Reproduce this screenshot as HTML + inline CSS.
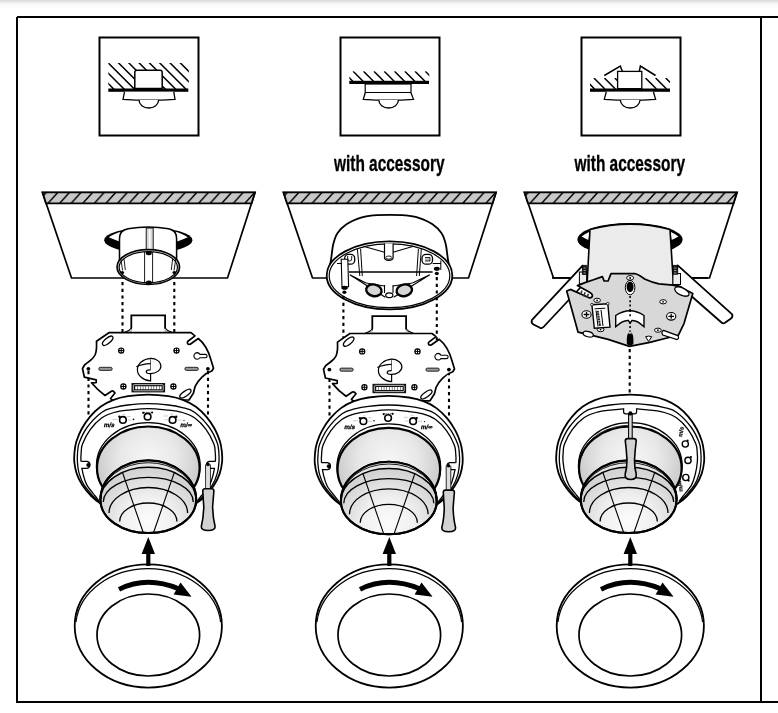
<!DOCTYPE html>
<html><head><meta charset="utf-8"><style>
html,body{margin:0;padding:0;background:#fff;width:778px;height:713px;overflow:hidden}
svg{display:block;will-change:transform}
text{font-family:"Liberation Sans",sans-serif;font-weight:bold}
</style></head><body>
<svg width="778" height="713" viewBox="0 0 778 713">
<defs>
<linearGradient id="topband" x1="0" y1="0" x2="0" y2="1">
<stop offset="0" stop-color="#d8d8d8"/><stop offset="0.3" stop-color="#ececec"/><stop offset="0.5" stop-color="#f8f8f8"/><stop offset="1" stop-color="#fdfdfd"/>
</linearGradient>
<pattern id="ceil" patternUnits="userSpaceOnUse" width="11.58" height="14" x="47.4" y="191">
<rect width="11.58" height="14" fill="#c8c8c8"/>
<path d="M-0.9,14 L11.7,0 M10.68,14 L23.28,0 M-12.48,14 L0.12,0" stroke="#000" stroke-width="1.5"/>
</pattern>
<radialGradient id="domeG" gradientUnits="userSpaceOnUse" cx="148.3" cy="458" r="52">
<stop offset="0" stop-color="#f6f6f6"/><stop offset="0.55" stop-color="#e8e8e8"/><stop offset="1" stop-color="#cdcdcd"/>
</radialGradient>
<radialGradient id="lensG" gradientUnits="userSpaceOnUse" cx="148.3" cy="522" r="52">
<stop offset="0" stop-color="#fcfcfc"/><stop offset="0.5" stop-color="#efefef"/><stop offset="1" stop-color="#d4d4d4"/>
</radialGradient>
<linearGradient id="boxG" x1="0" y1="0" x2="1" y2="0">
<stop offset="0" stop-color="#e6e6e6"/><stop offset="0.5" stop-color="#fafafa"/><stop offset="1" stop-color="#e0e0e0"/>
</linearGradient>
</defs>
<rect x="0" y="0" width="778" height="8" fill="url(#topband)"/>
<path d="M17,17 H778 M17,17 V702 H778 M761,17 V702" fill="none" stroke="#000" stroke-width="2"/>
<g>
<rect x="99.5" y="37.5" width="99" height="98" fill="none" stroke="#000" stroke-width="2"/>
<clipPath id="c1"><rect x="108.3" y="63" width="80.5" height="26"/></clipPath>
<g clip-path="url(#c1)" stroke="#000" stroke-width="1.5">
<path d="M67.4,53 l40,40 M77.7,53 l40,40 M88,53 l40,40 M98.3,53 l40,40 M108.6,53 l40,40 M118.9,53 l40,40 M129.2,53 l40,40 M139.5,53 l40,40 M149.8,53 l40,40 M160.1,53 l40,40 M170.4,53 l40,40 M180.7,53 l40,40"/>
</g>
<path d="M134.8,88.6 V72.5 Q134.8,70.3 137,70.3 H160 Q162.2,70.3 162.2,72.5 V88.6 Z" fill="#fff" stroke="#000" stroke-width="1.5"/>
<rect x="108.3" y="88.5" width="80" height="3.3" fill="#000"/>
<path d="M124.5,91.8 L123,99.3 Q149,101 175,99.3 L173.8,91.8" fill="#fff" stroke="#000" stroke-width="1.3"/>
<path d="M139,100 A9.8,8 0 0 0 158.6,100" fill="#fff" stroke="#000" stroke-width="1.3"/>
</g>
<g>
<rect x="340.5" y="37.5" width="99" height="98" fill="none" stroke="#000" stroke-width="2"/>
<clipPath id="c2"><rect x="349.3" y="71.3" width="80" height="9.8"/></clipPath>
<g clip-path="url(#c2)" stroke="#000" stroke-width="1.5">
<path d="M342.8,71.3 l10,10 M353.1,71.3 l10,10 M363.5,71.3 l10,10 M373.9,71.3 l10,10 M384.2,71.3 l10,10 M394.5,71.3 l10,10 M404.8,71.3 l10,10 M415,71.3 l10,10 M425.3,71.3 l10,10"/>
</g>
<rect x="349.3" y="80.8" width="79.7" height="3.2" fill="#000"/>
<rect x="365.2" y="84" width="45.8" height="9" fill="#fff" stroke="#000" stroke-width="1.2"/>
<path d="M365.2,93 H411" stroke="#000" stroke-width="2"/>
<path d="M365.2,93 L363.3,99.3 Q388.6,101 413.5,99.3 L411,93" fill="#fff" stroke="#000" stroke-width="1.3"/>
<path d="M378.8,100 A9.8,8 0 0 0 398.4,100" fill="#fff" stroke="#000" stroke-width="1.3"/>
</g>
<g>
<rect x="581.5" y="37.5" width="99" height="98" fill="none" stroke="#000" stroke-width="2"/>
<clipPath id="c3"><rect x="590" y="78" width="80" height="11"/></clipPath>
<g clip-path="url(#c3)" stroke="#000" stroke-width="1.5">
<path d="M583.6,78 l11,11 M593.9,78 l11,11 M604.4,78 l11,11 M614.8,78 l11,11 M645.5,78 l11,11 M655.6,78 l11,11 M665.7,78 l11,11"/>
</g>
<rect x="617.6" y="71.4" width="24.2" height="17.3" fill="#fff" stroke="#000" stroke-width="1.3"/>
<path d="M604.3,75.5 L620.3,66 L622.3,71.3 M639.3,71.3 L640.4,66 L655.6,75.5" fill="none" stroke="#000" stroke-width="1.5"/>
<rect x="590" y="88.5" width="80" height="3.3" fill="#000"/>
<path d="M606.3,91.8 L604.3,99.3 Q630,101 655.6,99.3 L653.4,91.8" fill="#fff" stroke="#000" stroke-width="1.3"/>
<path d="M620.4,100 A9.8,8 0 0 0 640,100" fill="#fff" stroke="#000" stroke-width="1.3"/>
</g>
<text x="334" y="170.6" font-size="21.3" textLength="110.5" lengthAdjust="spacingAndGlyphs" stroke="#000" stroke-width="0.35">with accessory</text>
<text x="574.5" y="170.6" font-size="21.3" textLength="110.5" lengthAdjust="spacingAndGlyphs" stroke="#000" stroke-width="0.35">with accessory</text>
<g id="panel">
<path d="M42.5,192.5 H255 L227.5,278 H71.5 Z" fill="#fff" stroke="#000" stroke-width="1.7"/>
<path d="M42.5,192.3 H255 L251.6,203.3 H46 Z" fill="url(#ceil)" stroke="#000" stroke-width="1.8"/>
</g>
<use href="#panel" x="241"/>
<use href="#panel" x="482"/>
<g id="c1top">
<ellipse cx="148.3" cy="240.2" rx="44.1" ry="12.7" fill="#000"/>
<path d="M108.8,237.2 Q114,233.6 122.5,231.6 L119.3,241.4 Q114,239.6 108.8,237.2 Z M187.8,237.2 Q182.6,233.6 174.1,231.6 L177.3,241.4 Q182.6,239.6 187.8,237.2 Z" fill="#fff"/>
<path d="M119.5,268 V238.5 Q119.5,230.5 128,228.8 Q148.3,225.4 168.6,228.8 Q176.6,230.5 176.6,238.5 V268 Z" fill="#fff" stroke="none"/>
<path d="M119.5,268 V238.5 Q119.5,230.5 128,228.8 Q148.3,225.4 168.6,228.8 Q176.6,230.5 176.6,238.5 V268" fill="none" stroke="#000" stroke-width="1.5"/>
<rect x="146.2" y="228" width="7" height="24" fill="#d9d9d9" stroke="#000" stroke-width="0.9"/>
<path d="M149.7,229 V249" stroke="#fafafa" stroke-width="1.6"/>
<ellipse cx="148.3" cy="267" rx="31.2" ry="17.3" fill="#fff" stroke="#000" stroke-width="1.8"/>
<ellipse cx="148.3" cy="267.3" rx="29.2" ry="15.6" fill="none" stroke="#000" stroke-width="1.2"/>
<ellipse cx="148.3" cy="267.2" rx="30.2" ry="16.5" fill="none" stroke="#888" stroke-width="0.8" stroke-dasharray="1 1"/>
<path d="M144.6,252 V283 M152.6,252 V283" stroke="#000" stroke-width="0.9"/>
<ellipse cx="148.8" cy="253" rx="3" ry="2.2" fill="#000"/>
<ellipse cx="148.8" cy="282.6" rx="3" ry="2.2" fill="#000"/>
<path d="M120.8,259 L122.6,270.5 M124,259 L125.3,270 M175.8,259 L174,270.5 M172.6,259 L171.3,270" stroke="#000" stroke-width="0.9"/>
<ellipse cx="122.3" cy="272.5" rx="1.8" ry="1.6" fill="#000"/>
<ellipse cx="174.3" cy="272.5" rx="1.8" ry="1.6" fill="#000"/>
</g>
<path d="M122.5,282 V334" stroke="#000" stroke-width="2.1" stroke-dasharray="3.2 3.5"/><path d="M174.3,282 V334" stroke="#000" stroke-width="2.1" stroke-dasharray="3.2 3.5"/><g id="plate">
<path d="M123.9,332.8 Q130.5,331 131.3,328 V315.4 H165.1 V328 Q166,331 172.6,332.8 Z" fill="#fff" stroke="#000" stroke-width="1.8"/>
<path d="M125.5,332.5 Q130,331 131.3,328.5 L131.8,332.5 Z M171,332.5 Q166.5,331 165.1,328.5 L164.6,332.5 Z" fill="#bbb"/>
<path d="M108.9,332.7 H191 L195,335.8 L187.6,341.5 Q186.6,344.8 190.2,344.2 L198.3,338.5 C204,343 209,352 211.3,361 L213.5,368.2 L211.8,371 C205,373 198,380 195,386.7 L193.5,393 L189,400 L112,400 L110.5,398.5 L115,393 Q113,390.3 111.4,391.2 L105,395.5 C100,392 95,387 91.5,382.8 L96.2,382.6 L96.2,379.8 L84.4,377.2 L82.5,368.5 L84.7,364.8 C91,360 95.5,357 96,352 C97,348 96.5,344 96.5,341.3 Z" fill="#fff" stroke="#000" stroke-width="1.7" stroke-linejoin="round"/>
<ellipse cx="107.7" cy="340.8" rx="6.4" ry="2.7" transform="rotate(-40 107.7 340.8)" fill="#fff" stroke="#000" stroke-width="1.3"/>
<ellipse cx="185.4" cy="393.7" rx="6.6" ry="2.5" transform="rotate(-35 185.4 393.7)" fill="#fff" stroke="#000" stroke-width="1.3"/>
<g fill="#fff" stroke="#000" stroke-width="1.2">
<circle cx="121.2" cy="350.6" r="2.6"/><circle cx="123.4" cy="386.5" r="2.6"/>
<circle cx="176.5" cy="350.6" r="2.6"/><circle cx="173.4" cy="386.5" r="2.6"/>
</g>
<path d="M118.6,350.6 h5.2 M121.2,348 v5.2 M120.8,386.5 h5.2 M123.4,383.9 v5.2 M173.9,350.6 h5.2 M176.5,348 v5.2 M170.8,386.5 h5.2 M173.4,383.9 v5.2" stroke="#000" stroke-width="1"/>
<rect x="98.8" y="367.3" width="13.4" height="3.1" rx="1.5" fill="#999" stroke="#000" stroke-width="0.8"/>
<rect x="184.9" y="367.3" width="13.4" height="3.1" rx="1.5" fill="#999" stroke="#000" stroke-width="0.8"/>
<circle cx="88.4" cy="368.8" r="1.9" fill="#000"/>
<circle cx="207.9" cy="368.8" r="1.9" fill="#000"/>
<path d="M197.2,352.6 A3.3,3.3 0 1 0 199.9,357.8 H205.4 A1.5,1.5 0 0 0 205.4,354.4 H199.9 A3.3,3.3 0 0 0 197.2,352.6 Z" fill="#fff" stroke="#000" stroke-width="1.1"/>
<path d="M150.6,358.4 A14.6,11.3 0 0 0 150.6,380.9 Z" fill="#fff" stroke="#000" stroke-width="1.2"/>
<path d="M150.6,358.4 A10.3,7.6 0 0 1 150.6,373.6 Q146.2,373.8 146.2,371.6 Q146.5,369.6 150.6,369.8" fill="#fff" stroke="#000" stroke-width="1.2"/>
<path d="M136.3,366.8 Q142,363.8 150.6,363.6" fill="none" stroke="#000" stroke-width="1.1"/>
<rect x="131.5" y="383" width="33.6" height="9.4" fill="#111"/>
<rect x="133.4" y="384.6" width="29.8" height="6.2" rx="1" fill="none" stroke="#ddd" stroke-width="0.8"/>
<path d="M135.2,387.7 H161.6" stroke="#fff" stroke-width="3" stroke-dasharray="2.2 0.5"/>
</g>
<path d="M88.5,371 V418" stroke="#000" stroke-width="2.1" stroke-dasharray="3.2 3.5"/><path d="M208,371 V418" stroke="#000" stroke-width="2.1" stroke-dasharray="3.2 3.5"/><g id="sensor"><path d="M100.8,503.9 C99.2,502.6 94.4,499.2 91.3,496.0 C88.2,492.8 84.7,488.6 82.3,484.9 C79.9,481.2 78.0,477.4 76.7,473.6 C75.4,469.8 74.7,465.6 74.3,462.0 C73.9,458.4 74.2,455.4 74.5,452.0 C74.8,448.6 75.2,445.4 76.4,441.6 C77.6,437.8 79.2,433.4 81.5,429.3 C83.8,425.2 86.7,420.6 89.9,416.9 C93.1,413.1 96.7,409.6 100.5,406.8 C104.3,404.0 108.3,401.9 112.9,400.1 C117.5,398.3 122.1,397.1 128.0,396.2 C133.9,395.3 141.5,394.6 148.2,394.6 C154.9,394.6 162.5,395.3 168.4,396.2 C174.3,397.1 178.9,398.3 183.5,400.1 C188.1,401.9 192.1,404.0 195.9,406.8 C199.7,409.6 203.3,413.1 206.5,416.9 C209.7,420.6 212.6,425.2 214.9,429.3 C217.1,433.4 218.8,437.8 220.0,441.6 C221.2,445.4 221.5,448.6 221.9,452.0 C222.2,455.4 222.5,458.4 222.1,462.0 C221.7,465.6 221.0,469.8 219.7,473.6 C218.4,477.4 216.5,481.2 214.1,484.9 C211.7,488.6 208.2,492.8 205.1,496.0 C202.0,499.2 197.2,502.6 195.6,503.9 Z" fill="#fff" stroke="#000" stroke-width="1.8"/><path d="M100.8,503.9 C99.5,502.6 95.8,499.2 93.0,496.0 C90.2,492.8 86.3,488.6 84.0,484.9 C81.7,481.2 80.3,477.4 79.2,473.6 C78.1,469.8 77.7,465.6 77.4,462.0 C77.1,458.4 77.3,455.2 77.6,452.0 C77.9,448.8 77.6,446.8 79.2,442.7 C80.8,438.6 83.3,432.6 87.0,427.5 C90.7,422.4 97.1,415.7 101.6,412.4 C106.1,409.1 109.6,408.8 114.0,407.6 C118.4,406.4 122.3,405.6 128.0,405.0 C133.7,404.4 141.5,403.7 148.2,403.7 C154.9,403.7 162.7,404.4 168.4,405.0 C174.1,405.6 178.0,406.4 182.4,407.6 C186.8,408.8 190.3,409.1 194.8,412.4 C199.3,415.7 205.7,422.4 209.4,427.5 C213.1,432.6 215.6,438.6 217.2,442.7 C218.8,446.8 218.5,448.8 218.8,452.0 C219.1,455.2 219.3,458.4 219.0,462.0 C218.7,465.6 218.3,469.8 217.2,473.6 C216.1,477.4 214.7,481.2 212.4,484.9 C210.1,488.6 206.2,492.8 203.4,496.0 C200.6,499.2 196.9,502.6 195.6,503.9" fill="none" stroke="#000" stroke-width="1.3"/><path d="M99.5,501.5 C98.8,500.6 97.3,498.8 95.2,496.0 C93.1,493.2 88.8,488.6 86.8,484.9 C84.8,481.2 84.0,477.6 83.0,473.6 C82.0,469.6 81.3,464.6 81.0,461.0 C80.7,457.4 80.9,454.9 81.2,452.0 C81.5,449.1 81.1,447.6 82.6,443.8 C84.1,440.0 87.2,433.6 90.4,429.3 C93.6,425.0 97.7,420.8 101.6,418.0 C105.5,415.2 109.6,413.8 114.0,412.5 C118.4,411.2 122.3,410.8 128.0,410.2 C133.7,409.6 141.5,408.6 148.2,408.6 C154.9,408.6 162.7,409.6 168.4,410.2 C174.1,410.8 178.0,411.2 182.4,412.5 C186.8,413.8 190.9,415.2 194.8,418.0 C198.7,420.8 202.8,425.0 206.0,429.3 C209.2,433.6 212.3,440.0 213.8,443.8 C215.3,447.6 214.9,449.1 215.2,452.0 C215.5,454.9 215.7,457.4 215.4,461.0 C215.1,464.6 214.4,469.6 213.4,473.6 C212.4,477.6 211.6,481.2 209.6,484.9 C207.6,488.6 203.3,493.2 201.2,496.0 C199.1,498.8 197.6,500.6 196.9,501.5" fill="none" stroke="#000" stroke-width="1.3"/><rect x="79.5" y="461.8" width="3.4" height="6.2" fill="#fff"/>
<path d="M81.2,461.3 H87 A3.6,3.6 0 0 1 87,468.4 H81.4" fill="#fff" stroke="#000" stroke-width="1.2"/>
<circle cx="88.3" cy="464.9" r="2" fill="#000"/>
<rect x="213.5" y="461.8" width="3.4" height="6.2" fill="#fff"/>
<path d="M215.2,461.3 H209.4 A3.6,3.6 0 0 0 209.4,468.4 H215" fill="#fff" stroke="#000" stroke-width="1.2"/>
<ellipse cx="148.3" cy="465.6" rx="51.9" ry="43" fill="#fff" stroke="#000" stroke-width="1.2"/><ellipse cx="148.3" cy="468" rx="51.3" ry="41.5" fill="url(#domeG)" stroke="#000" stroke-width="2.2"/><g fill="none" stroke="#000" stroke-width="1.6">
<circle cx="122.9" cy="419.9" r="3.3"/><circle cx="147.6" cy="416.7" r="3.3"/><circle cx="172.6" cy="419.9" r="3.3"/>
</g>
<g fill="#000"><circle cx="119.4" cy="416.8" r="1.2"/><circle cx="176.2" cy="416.8" r="1.2"/><circle cx="143.2" cy="412.8" r="1.1"/><circle cx="152.1" cy="412.5" r="1.1"/><circle cx="133.5" cy="419.4" r="0.8"/><circle cx="184" cy="420.3" r="0.6"/></g>
<path d="M144,412.4 H151.5" stroke="#000" stroke-width="0.7" stroke-dasharray="1 0.8"/>
<g stroke="#999" stroke-width="0.5" fill="none">
<path d="M112.5,419.5 h5 M127,416.5 h3.5 M127.5,420 h4 M163.5,416 h4.5 M164.5,419.8 h3.5 M177.5,420 h4 M123,414.5 h2 M170,414 h3"/>
</g>
<text x="103.5" y="427.5" font-size="6.2" transform="skewX(-12) translate(90.9,0)" stroke="#000" stroke-width="0.25">m/s</text>
<text x="180" y="427.5" font-size="6.2" transform="skewX(-12) translate(90.9,0)" stroke="#000" stroke-width="0.25">m/∞</text>
<path d="M100.4,500 A47.9,39.6 0 0 1 196.2,500 A47.9,33 0 0 1 100.4,500 Z" fill="url(#lensG)" stroke="#000" stroke-width="2"/>
<path d="M100.4,500 A47.9,32.7 0 0 1 196.2,500 A47.9,39.6 0 0 0 100.4,500 Z" fill="#e4e4e4"/>
<path d="M100.4,500 A47.9,37.3 0 0 1 196.2,500" fill="none" stroke="#000" stroke-width="0.9"/>
<path d="M100.4,500 A47.9,32.7 0 0 1 196.2,500" fill="none" stroke="#000" stroke-width="1.5"/>
<path d="M100.4,500 A47.9,39.6 0 0 1 196.2,500" fill="none" stroke="#000" stroke-width="2.1"/>
<g fill="none" stroke="#000" stroke-width="1.3">
<path d="M103.3,502 A45,24.6 0 0 1 193.3,502"/>
<path d="M109,513 A39.3,25.5 0 0 1 187.6,513"/>
<path d="M119.7,521.5 A28.6,18.5 0 0 1 176.9,521.5"/>
</g>
<path d="M122.5,472.5 L143.3,532.8 M174.3,472.5 L153.5,532.8" stroke="#000" stroke-width="1.1"/>
<path d="M100.4,500 A47.9,33 0 0 0 196.2,500" fill="none" stroke="#000" stroke-width="2"/>
<path d="M205.8,464.5 L205.9,488.8 M210.2,464.5 L210.1,488.8" stroke="#000" stroke-width="1.2"/>
<rect x="206.1" y="464.5" width="3.8" height="24.4" fill="#ddd"/>
<circle cx="208" cy="464.4" r="1.8" fill="#000"/>
<path d="M202.8,491 Q202.8,488.8 205,488.8 H211.7 Q213.9,488.8 213.9,491 Q213.2,499 212.6,507 Q213,518 215,526 Q215.6,530.5 208.2,530.5 Q200.8,530.5 201.4,526 Q203.4,518 203.8,507 Q203.2,499 202.8,491 Z" fill="#d2d2d2" stroke="#000" stroke-width="1.6"/>
</g><g id="acc">
<path d="M326.8,276.0 C327.4,273.7 329.5,267.3 330.6,262.0 C331.7,256.7 332.1,248.8 333.3,244.0 C334.5,239.2 335.4,236.3 337.6,233.0 C339.8,229.7 342.6,226.8 346.5,224.2 C350.4,221.6 356.4,219.1 361.0,217.6 C365.6,216.1 369.3,215.8 374.0,215.3 C378.7,214.9 384.1,214.9 389.3,214.9 C394.5,214.9 400.2,214.9 405.0,215.3 C409.8,215.8 413.4,216.1 418.0,217.6 C422.6,219.1 428.6,221.6 432.5,224.2 C436.4,226.8 439.2,229.7 441.4,233.0 C443.6,236.3 444.5,239.2 445.7,244.0 C446.9,248.8 447.3,256.7 448.4,262.0 C449.5,267.3 451.6,273.7 452.2,276.0 A62.8,33.8 0 0 1 326.8,276 Z" fill="#fff" stroke="#000" stroke-width="1.8"/>
<ellipse cx="389.5" cy="275.4" rx="62.8" ry="34" fill="#fff" stroke="#000" stroke-width="1.8"/>
<ellipse cx="389.5" cy="275.8" rx="60.3" ry="31.9" fill="#fff" stroke="#000" stroke-width="1.2"/>
<path d="M357.4,249 L359.8,276 M360.6,249 L362.3,276 M418.4,249 L416.6,276 M421.3,249 L419.3,276" stroke="#000" stroke-width="1"/>
<path d="M349,272 H432.6" stroke="#000" stroke-width="1.3"/>
<path d="M363.3,246.3 L384.5,252.3 M413.5,246.3 L393,252.3" stroke="#000" stroke-width="1.1"/>
<path d="M384.5,243.4 V257.8 A4.3,2.5 0 0 0 393.1,257.8 V243.4" fill="#fff" stroke="#000" stroke-width="1.2"/>
<ellipse cx="388.8" cy="257.6" rx="3" ry="1.6" fill="none" stroke="#000" stroke-width="0.9"/>
<rect x="344.7" y="254.3" width="10" height="9.9" rx="4" fill="#fff" stroke="#000" stroke-width="1.3"/>
<path d="M347.7,256 V259 Q347.7,261 349.7,261 Q351.7,261 351.7,259 V256" fill="none" stroke="#000" stroke-width="0.9"/>
<rect x="422" y="254.3" width="10.5" height="9.9" rx="4" fill="#fff" stroke="#000" stroke-width="1.3"/>
<path d="M425,257.5 H430 V261 H425" fill="#bbb" stroke="#000" stroke-width="0.8"/>
<path d="M337,263.5 H345" stroke="#000" stroke-width="1"/>
<path d="M341.2,259.3 L342,286.8 H348.6 L347.8,259.3 Z" fill="#fff" stroke="#000" stroke-width="1.1"/>
<ellipse cx="344.6" cy="287.8" rx="3.2" ry="2" fill="#000"/>
<ellipse cx="344.4" cy="292.2" rx="2" ry="1.8" fill="#000"/>
<path d="M349.8,274.8 L385.3,297.2 M429.8,274.8 L393.7,297.2 M349.8,274.8 L366,283 M429.8,274.8 L412.5,283 M384.5,285 V293 M393,285 V293" stroke="#000" stroke-width="1.1" fill="none"/>
<path d="M366,283 L384.5,286 M412.5,283 L393,286" stroke="#000" stroke-width="1"/>
<ellipse cx="373.9" cy="290.3" rx="7.8" ry="5.8" transform="rotate(12 373.9 290.3)" fill="#d6d6d6" stroke="#000" stroke-width="2.4"/>
<ellipse cx="404.3" cy="290.3" rx="7.8" ry="5.8" transform="rotate(-12 404.3 290.3)" fill="#d6d6d6" stroke="#000" stroke-width="2.4"/>
<ellipse cx="389.3" cy="295.3" rx="3.6" ry="2.4" fill="#fff" stroke="#000" stroke-width="1.2"/>
<path d="M432.6,263.5 H441 M440.8,260.5 V270" stroke="#000" stroke-width="1"/>
<ellipse cx="436.8" cy="268.8" rx="3" ry="2" fill="#000"/>
<ellipse cx="436.8" cy="273.5" rx="2" ry="1.8" fill="#000"/>
</g>
<path d="M343.4,296 V340" stroke="#000" stroke-width="2.1" stroke-dasharray="3.2 3.5"/><path d="M436.8,277 V340" stroke="#000" stroke-width="2.1" stroke-dasharray="3.2 3.5"/><path d="M329.5,372 V419" stroke="#000" stroke-width="2.1" stroke-dasharray="3.2 3.5"/><path d="M449,372 V419" stroke="#000" stroke-width="2.1" stroke-dasharray="3.2 3.5"/><use href="#plate" x="241" y="0.8"/><use href="#sensor" x="240.5" y="1.3"/><g id="c3top">
<ellipse cx="630" cy="239.4" rx="52.6" ry="16.3" fill="#000"/>
<path d="M581.6,236.4 Q584.5,234.2 589.6,231.8 L588.4,239.9 Q584.5,238.3 581.6,236.4 Z M678.4,236.4 Q675.5,234.2 670.4,231.8 L671.6,239.9 Q675.5,238.3 678.4,236.4 Z" fill="#fff"/>
<path d="M590,229.6 Q630,218.6 670,229.6 L673.5,285 L587,285 Z" fill="#ebebeb" stroke="#000" stroke-width="1.6"/>
<path d="M552,277.8 H578 M681,277.8 H708" stroke="#000" stroke-width="1.7"/>
<!-- left wing -->
<path d="M582.6,265.6 L531.8,320.2 Q531,323 533.5,324.5 L540,327.8 Q542,328.6 543.5,327 L580,288 L586.5,281 Z" fill="#fff" stroke="#000" stroke-width="1.8" stroke-linejoin="round"/>
<rect x="579.4" y="272" width="7.2" height="12" fill="#ececec" stroke="#000" stroke-width="1"/>
<path d="M582.4,265.4 H586.6 V274.5 H582.4 Z" fill="#1a1a1a" stroke="#000" stroke-width="0.8"/>
<path d="M583.6,268 h2 M583.6,270.5 h2 M583.6,273 h2" stroke="#bbb" stroke-width="0.8"/>
<!-- right wing -->
<path d="M677.7,265.4 L732.2,314.3 Q733,317 731,318.5 L725,322.8 Q723,324 721.5,322.5 L681,287 L673.5,284 Z" fill="#fff" stroke="#000" stroke-width="1.8" stroke-linejoin="round"/>
<rect x="672.9" y="273.5" width="7.6" height="11" fill="#ececec" stroke="#000" stroke-width="1"/>
<path d="M672.9,265.4 H677.7 V274.3 H672.9 Z" fill="#1a1a1a" stroke="#000" stroke-width="0.8"/>
<path d="M674,268 h2.4 M674,270.5 h2.4 M674,273 h2.4" stroke="#bbb" stroke-width="0.8"/>
<!-- plate -->
<path d="M566.7,291.1 L570.4,289.4 L589.2,297.8 Q592.6,298 592.4,295.3 Q592,293.6 590,292.6 L577.4,285.6 L585,282.6 L593.5,279.8 L602.4,276.6 L604.1,281 L608.1,281 L611,273.6 L634.7,273.5 C638,274 641,276.5 645.2,279.3 C650,281.5 654,283 659,283.9 L672.9,285.2 L678.4,286.3 L692.8,293.5 L684,323.6 L678.4,335.2 L666,338.3 L649.8,342.3 L629.5,346.4 L608.1,339.4 L587.9,334.4 L578,332.1 Z" fill="#d8d8d8" stroke="#000" stroke-width="1.7" stroke-linejoin="round"/>
<path d="M582,290.6 l-1.6,4.2 M585.2,292.2 l-1.6,4.2 M588.4,293.8 l-1.4,3.6" stroke="#333" stroke-width="1.6"/>
<ellipse cx="681.9" cy="291.6" rx="7.8" ry="3.6" transform="rotate(25 681.9 291.6)" fill="#fff" stroke="#000" stroke-width="1.3"/>
<path d="M663.5,330.4 L677.8,335.6 Q679.8,338 677,339.6 L662.8,335 Q660.6,331.8 663.5,330.4 Z" fill="#fff" stroke="#000" stroke-width="1.2"/>
<ellipse cx="588.2" cy="334.2" rx="5.2" ry="2.6" transform="rotate(15 588.2 334.2)" fill="#fff" stroke="#000" stroke-width="1.2"/>
<g fill="#fff" stroke="#000" stroke-width="1">
<ellipse cx="597.1" cy="300.3" rx="3.4" ry="2.1"/><ellipse cx="663.1" cy="301.8" rx="3.4" ry="2.1"/>
<ellipse cx="657.9" cy="330.2" rx="3.4" ry="2.1"/><ellipse cx="600.6" cy="329.6" rx="3.4" ry="2.1"/>
<ellipse cx="630.1" cy="277.9" rx="3.5" ry="2.3"/>
</g>
<g fill="#000"><circle cx="597.1" cy="300.3" r="0.9"/><circle cx="663.1" cy="301.8" r="0.9"/><circle cx="657.9" cy="330.2" r="0.9"/><circle cx="600.6" cy="329.6" r="0.9"/><circle cx="630.1" cy="277.9" r="1"/></g>
<g fill="#fff" stroke="#000" stroke-width="1.1">
<ellipse cx="586.5" cy="314.5" rx="4.6" ry="3.8"/><ellipse cx="671.2" cy="316.3" rx="4.6" ry="3.8"/>
</g>
<path d="M583.7,314.5 h5.6 M586.5,312 v5 M668.4,316.3 h5.6 M671.2,313.8 v5" stroke="#000" stroke-width="1.3"/>
<ellipse cx="630.1" cy="287.6" rx="4.8" ry="7.2" fill="#fff" stroke="#000" stroke-width="1"/>
<ellipse cx="630.1" cy="286.8" rx="3.5" ry="5.4" fill="#000"/>
<path d="M630.1,296 V336" stroke="#000" stroke-width="1.6" stroke-dasharray="2 2.3"/>
<path d="M615.7,315.5 Q630,306 644,315.5 V326.7 Q637,320 632,320.5 L630.1,323 L628.3,320.5 Q623,320 615.7,326.7 Z" fill="#fff" stroke="#000" stroke-width="1.4"/>
<path d="M630.1,310 V318" stroke="#000" stroke-width="1.6" stroke-dasharray="2 2.3"/>
<path d="M626.8,339 Q626.8,333 630.1,332 Q633.4,333 633.4,339 V344 Q630.1,347 626.8,344 Z" fill="#000"/>
<path d="M628.3,333.4 L630.1,331.5 L631.9,333.4" fill="#fff"/>
<path d="M645.6,336.7 Q648.6,335.5 651.7,336.7 L648.6,341.5 Z" fill="#fff" stroke="#000" stroke-width="1"/>
<path d="M591.9,304.7 L607.8,303.7 L610,327.2 L594.3,328.2 Z" fill="#fff" stroke="#000" stroke-width="1.4"/>
<path d="M594.6,308.8 L605.3,308.2 M596,310.5 L598,326.5 M601,309.8 L603,326 " stroke="#000" stroke-width="1"/>
<path d="M596.5,311 L599,326 L601,325.8 L598.7,310.8 Z" fill="#222"/>
<path d="M597,313 h3 M597.3,315.5 h3 M597.6,318 h3 M597.9,320.5 h3 M598.2,323 h3" stroke="#fff" stroke-width="0.6"/>
<circle cx="591.9" cy="304.7" r="1.3" fill="#fff" stroke="#000" stroke-width="0.8"/>
<circle cx="607.8" cy="303.7" r="1.3" fill="#fff" stroke="#000" stroke-width="0.8"/>
</g>
<path d="M629.7,349 V394" stroke="#000" stroke-width="2.1" stroke-dasharray="3.2 3.5"/><g id="sensor3"><g transform="translate(482,0)"><path d="M100.8,503.9 C99.2,502.6 94.4,499.2 91.3,496.0 C88.2,492.8 84.7,488.6 82.3,484.9 C79.9,481.2 78.0,477.4 76.7,473.6 C75.4,469.8 74.7,465.6 74.3,462.0 C73.9,458.4 74.2,455.4 74.5,452.0 C74.8,448.6 75.2,445.4 76.4,441.6 C77.6,437.8 79.2,433.4 81.5,429.3 C83.8,425.2 86.7,420.6 89.9,416.9 C93.1,413.1 96.7,409.6 100.5,406.8 C104.3,404.0 108.3,401.9 112.9,400.1 C117.5,398.3 122.1,397.1 128.0,396.2 C133.9,395.3 141.5,394.6 148.2,394.6 C154.9,394.6 162.5,395.3 168.4,396.2 C174.3,397.1 178.9,398.3 183.5,400.1 C188.1,401.9 192.1,404.0 195.9,406.8 C199.7,409.6 203.3,413.1 206.5,416.9 C209.7,420.6 212.6,425.2 214.9,429.3 C217.1,433.4 218.8,437.8 220.0,441.6 C221.2,445.4 221.5,448.6 221.9,452.0 C222.2,455.4 222.5,458.4 222.1,462.0 C221.7,465.6 221.0,469.8 219.7,473.6 C218.4,477.4 216.5,481.2 214.1,484.9 C211.7,488.6 208.2,492.8 205.1,496.0 C202.0,499.2 197.2,502.6 195.6,503.9 Z" fill="#fff" stroke="#000" stroke-width="1.8"/><path d="M100.8,503.9 C99.5,502.6 95.8,499.2 93.0,496.0 C90.2,492.8 86.3,488.6 84.0,484.9 C81.7,481.2 80.3,477.4 79.2,473.6 C78.1,469.8 77.7,465.6 77.4,462.0 C77.1,458.4 77.3,455.2 77.6,452.0 C77.9,448.8 77.6,446.8 79.2,442.7 C80.8,438.6 83.3,432.6 87.0,427.5 C90.7,422.4 97.1,415.7 101.6,412.4 C106.1,409.1 109.6,408.8 114.0,407.6 C118.4,406.4 122.3,405.6 128.0,405.0 C133.7,404.4 141.5,403.7 148.2,403.7 C154.9,403.7 162.7,404.4 168.4,405.0 C174.1,405.6 178.0,406.4 182.4,407.6 C186.8,408.8 190.3,409.1 194.8,412.4 C199.3,415.7 205.7,422.4 209.4,427.5 C213.1,432.6 215.6,438.6 217.2,442.7 C218.8,446.8 218.5,448.8 218.8,452.0 C219.1,455.2 219.3,458.4 219.0,462.0 C218.7,465.6 218.3,469.8 217.2,473.6 C216.1,477.4 214.7,481.2 212.4,484.9 C210.1,488.6 206.2,492.8 203.4,496.0 C200.6,499.2 196.9,502.6 195.6,503.9" fill="none" stroke="#000" stroke-width="1.3"/><path d="M99.5,501.5 C98.8,500.6 97.3,498.8 95.2,496.0 C93.1,493.2 88.8,488.6 86.8,484.9 C84.8,481.2 84.0,477.6 83.0,473.6 C82.0,469.6 81.3,464.6 81.0,461.0 C80.7,457.4 80.9,454.9 81.2,452.0 C81.5,449.1 81.1,447.6 82.6,443.8 C84.1,440.0 87.2,433.6 90.4,429.3 C93.6,425.0 97.7,420.8 101.6,418.0 C105.5,415.2 109.6,413.8 114.0,412.5 C118.4,411.2 122.3,410.8 128.0,410.2 C133.7,409.6 141.5,408.6 148.2,408.6 C154.9,408.6 162.7,409.6 168.4,410.2 C174.1,410.8 178.0,411.2 182.4,412.5 C186.8,413.8 190.9,415.2 194.8,418.0 C198.7,420.8 202.8,425.0 206.0,429.3 C209.2,433.6 212.3,440.0 213.8,443.8 C215.3,447.6 214.9,449.1 215.2,452.0 C215.5,454.9 215.7,457.4 215.4,461.0 C215.1,464.6 214.4,469.6 213.4,473.6 C212.4,477.6 211.6,481.2 209.6,484.9 C207.6,488.6 203.3,493.2 201.2,496.0 C199.1,498.8 197.6,500.6 196.9,501.5" fill="none" stroke="#000" stroke-width="1.3"/><ellipse cx="148.3" cy="465.6" rx="51.9" ry="43" fill="#fff" stroke="#000" stroke-width="1.2"/><ellipse cx="148.3" cy="468" rx="51.3" ry="41.5" fill="url(#domeG)" stroke="#000" stroke-width="2.2"/></g><rect x="624.3" y="406.6" width="11.6" height="3" fill="#fff"/>
<path d="M623.6,408.7 V411.8 Q623.6,413.8 625.6,413.8 H634.6 Q636.6,413.8 636.6,411.8 V408.7" fill="#fff" stroke="#000" stroke-width="1.2"/>
<path d="M630.8,425.2 A49,36 0 0 0 582,456" fill="none" stroke="#000" stroke-width="0.8"/>
<g fill="none" stroke="#000" stroke-width="1.4">
<circle cx="685.3" cy="444" r="3.1"/><circle cx="688" cy="460.4" r="3.1"/><circle cx="685.8" cy="477.5" r="3.1"/>
</g>
<g fill="#000"><circle cx="687.6" cy="440.6" r="1.1"/><circle cx="690.9" cy="457" r="1.1"/><circle cx="688.6" cy="480.6" r="1.1"/></g>
<text transform="translate(682,437) rotate(-80)" font-size="5.8" stroke="#000" stroke-width="0.2">m/s</text>
<text transform="translate(682.8,491.5) rotate(-96)" font-size="5.8" stroke="#000" stroke-width="0.2">m/∞</text>
<g transform="translate(480.4,0)"><path d="M100.4,500 A47.9,39.6 0 0 1 196.2,500 A47.9,33 0 0 1 100.4,500 Z" fill="url(#lensG)" stroke="#000" stroke-width="2"/>
<path d="M100.4,500 A47.9,32.7 0 0 1 196.2,500 A47.9,39.6 0 0 0 100.4,500 Z" fill="#e4e4e4"/>
<path d="M100.4,500 A47.9,37.3 0 0 1 196.2,500" fill="none" stroke="#000" stroke-width="0.9"/>
<path d="M100.4,500 A47.9,32.7 0 0 1 196.2,500" fill="none" stroke="#000" stroke-width="1.5"/>
<path d="M100.4,500 A47.9,39.6 0 0 1 196.2,500" fill="none" stroke="#000" stroke-width="2.1"/>
<g fill="none" stroke="#000" stroke-width="1.3">
<path d="M103.3,502 A45,24.6 0 0 1 193.3,502"/>
<path d="M109,513 A39.3,25.5 0 0 1 187.6,513"/>
<path d="M119.7,521.5 A28.6,18.5 0 0 1 176.9,521.5"/>
</g>
<path d="M122.5,472.5 L143.3,532.8 M174.3,472.5 L153.5,532.8" stroke="#000" stroke-width="1.1"/>
<path d="M100.4,500 A47.9,33 0 0 0 196.2,500" fill="none" stroke="#000" stroke-width="2"/>
</g>
<rect x="628.6" y="413.5" width="3.6" height="25.5" fill="#ddd" stroke="#000" stroke-width="1.1"/>
<ellipse cx="630.4" cy="413.4" rx="2" ry="2.2" fill="#000"/>
<path d="M625.3,441 Q625.3,438.6 627.6,438.6 H633.9 Q636.2,438.6 636.2,441 Q635,450 634.5,460 Q634.5,468 636.2,474 Q637,479.5 630.7,479.5 Q624.4,479.5 625.2,474 Q627,468 627,460 Q626.5,450 625.3,441 Z" fill="#d2d2d2" stroke="#000" stroke-width="1.6"/>
</g><g id="ring">
<ellipse cx="148.3" cy="626" rx="73.6" ry="61.6" fill="#fff" stroke="#000" stroke-width="1.8"/>
<path d="M76,622 A72.6,58.7 0 0 1 220.6,622" fill="none" stroke="#000" stroke-width="1.2"/>
<ellipse cx="148.3" cy="635" rx="51.3" ry="41" fill="#fff" stroke="#000" stroke-width="1.7"/>
<path d="M148.3,566 V552" stroke="#000" stroke-width="4.2"/>
<path d="M148.3,537 L141.6,554 H155 Z" fill="#000"/>
<path d="M119,589.3 Q147,575.5 178.5,588.8" fill="none" stroke="#000" stroke-width="4.8"/>
<path d="M191.6,596.8 L180.5,582.6 L173.6,594.6 Z" fill="#000"/>
</g>
<use href="#ring" x="241"/>
<use href="#ring" x="482"/>
</svg>
</body></html>
